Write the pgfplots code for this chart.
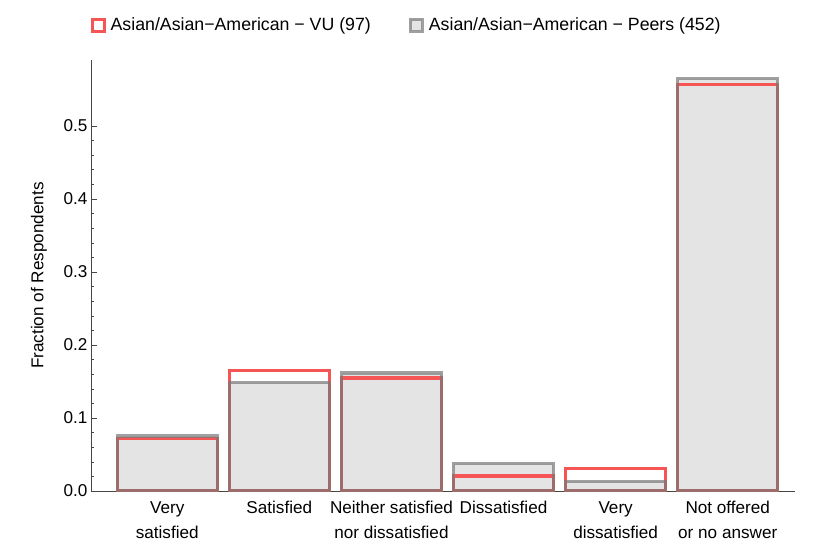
\documentclass[border=0pt]{standalone}
\usepackage{fontspec}
\setmainfont{Liberation Sans}
\usepackage{pgfplots}
\pgfplotsset{compat=1.18}

\definecolor{vured}{RGB}{245,85,85}
\definecolor{peergray}{RGB}{120,120,120}
\definecolor{peerfill}{RGB}{228,228,228}
\definecolor{axgray}{RGB}{70,70,70}

\begin{document}
\begin{tikzpicture}
  \begin{axis}[
      scale only axis,
      width=704bp, height=431bp,
      xmin=-0.68, xmax=5.6,
      ymin=0, ymax=0.59,
      axis x line=bottom, axis y line=left,
      axis line style={axgray, -},
      tick align=inside,
      major tick length=6bp, minor tick length=3bp,
      tick style={axgray},
      xtick={0,1,2,3,4,5},
      xticklabels={Very\\satisfied, Satisfied, Neither satisfied\\nor dissatisfied, Dissatisfied, Very\\dissatisfied, Not offered\\or no answer},
      x tick label style={align=center, font=\fontsize{17.2}{25}\selectfont, yshift=-7bp},
      ytick={0,0.1,0.2,0.3,0.4,0.5},
      minor y tick num=4,
      y tick label style={font=\fontsize{17.2}{20}\selectfont,
        /pgf/number format/fixed, /pgf/number format/fixed zerofill,
        /pgf/number format/precision=1},
      /pgf/number format/assume math mode=true,
      ylabel={Fraction of Respondents},
      ylabel style={font=\fontsize{17.2}{20}\selectfont},
      ylabel shift=10bp,
      bar width=0.89,
      legend style={at={(-0.005,1.081)}, anchor=west, draw=none, fill=none,
        font=\fontsize{17.8}{20}\selectfont, column sep=3bp,
        /tikz/every even column/.append style={column sep=36bp},
        nodes={inner sep=2bp}},
      legend columns=2,
    ]
    % peers fill
    \addplot[ybar, bar shift=0, fill=peerfill, draw=none, forget plot] coordinates {
      (0,0.0752) (1,0.1482) (2,0.1615) (3,0.0376) (4,0.0133) (5,0.5642)
    };
    % VU outline
    \addplot[ybar, bar shift=0, fill=none, draw=vured, line width=3.2bp, forget plot] coordinates {
      (0,0.0722) (1,0.1649) (2,0.1546) (3,0.0206) (4,0.0309) (5,0.5567)
    };
    % peers outline
    \addplot[ybar, bar shift=0, fill=none, draw=peergray, draw opacity=0.7, line width=3.2bp, forget plot] coordinates {
      (0,0.0752) (1,0.1482) (2,0.1615) (3,0.0376) (4,0.0133) (5,0.5642)
    };
    \addlegendimage{legend image code/.code={\draw[draw=vured, fill=white, line width=3bp] (0bp,-6bp) rectangle (12bp,6bp);}}
    \addlegendentry{Asian/Asian{\textminus}American {\textminus} VU (97)}
    \addlegendimage{legend image code/.code={\draw[draw=peergray, draw opacity=0.7, fill=peerfill, line width=3bp] (0bp,-6bp) rectangle (12bp,6bp);}}
    \addlegendentry{Asian/Asian{\textminus}American {\textminus} Peers (452)}
  \end{axis}
  \path (current axis.south west) ++(-91bp,-69bp) rectangle ++(837bp,560bp);
\end{tikzpicture}
\end{document}
